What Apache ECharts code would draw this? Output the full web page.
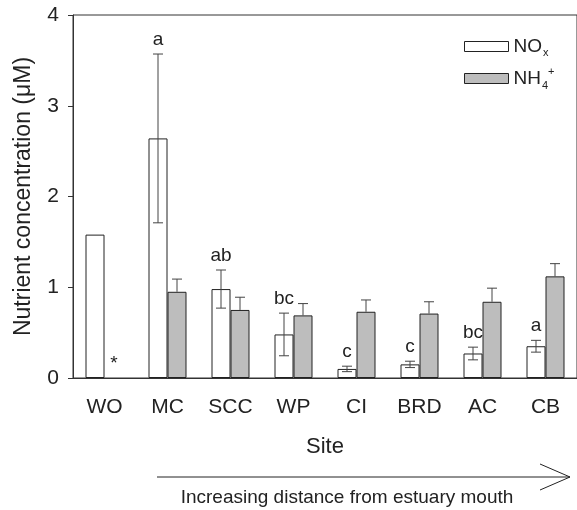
<!DOCTYPE html>
<html>
<head>
<meta charset="utf-8">
<script src="https://cdn.jsdelivr.net/npm/echarts@6/dist/echarts.min.js"></script>
<style>
  html, body { margin: 0; padding: 0; background: #fff; }
  #chart { width: 577px; height: 510px; }
</style>
</head>
<body>
<div id="chart"></div>
<script>
// sites along the estuary
const sites = ['WO', 'MC', 'SCC', 'WP', 'CI', 'BRD', 'AC', 'CB'];
// NOx mean and SE (uM)
const noxMean = [1.58, 2.64, 0.98, 0.48, 0.10, 0.15, 0.27, 0.35];
const noxErr = [0, 0.93, 0.21, 0.235, 0.03, 0.035, 0.07, 0.065];
// NH4+ mean and SE (uM)
const nh4Mean = [null, 0.95, 0.75, 0.69, 0.73, 0.71, 0.84, 1.12];
const nh4Err = [0, 0.14, 0.14, 0.13, 0.13, 0.13, 0.15, 0.14];
// significance letters (NOx) and notes (NH4)
const noxLetters = ['', 'a', 'ab', 'bc', 'c', 'c', 'bc', 'a'];
const nh4Notes = ['*', '', '', '', '', '', '', ''];
const yTicks = [0, 1, 2, 3, 4];

const FONT = '"Liberation Sans", Arial, sans-serif';
const INK = '#222';
const BAR_W = 19;

function errData(means, errs) {
  return means.map((m, i) => [i, m == null ? 0 : m, errs[i], i]);
}

// error bars + letters drawn from data through the axes
function errRenderer(offset, bothSides, labels) {
  return function (params, api) {
    const i = api.value(0), m = api.value(1), e = api.value(2);
    const base = api.coord([i, m]);
    const x = base[0] + offset;
    const top = api.coord([i, m + e]);
    const bot = api.coord([i, bothSides ? m - e : m]);
    const children = [];
    if (e > 0) {
      const st = { stroke: '#444', lineWidth: 1 };
      children.push({ type: 'line', shape: { x1: x, y1: top[1], x2: x, y2: bot[1] }, style: st });
      children.push({ type: 'line', shape: { x1: x - 5, y1: top[1], x2: x + 5, y2: top[1] }, style: st });
      if (bothSides) {
        children.push({ type: 'line', shape: { x1: x - 5, y1: bot[1], x2: x + 5, y2: bot[1] }, style: st });
      }
    }
    const lab = labels[i];
    if (lab) {
      children.push({
        type: 'text',
        x: x, y: top[1] - 5,
        style: { text: lab, fill: INK, font: '19px ' + FONT, align: 'center', verticalAlign: 'bottom' }
      });
    }
    return { type: 'group', children: children };
  };
}

const chart = echarts.init(document.getElementById('chart'));
chart.setOption({
  animation: false,
  textStyle: { fontFamily: FONT, color: INK },
  grid: { left: 73, right: -1, top: 15, bottom: 132, show: true, borderColor: '#333', borderWidth: 1 },
  legend: {
    orient: 'vertical',
    left: 459, top: 32,
    icon: 'rect',
    itemWidth: 44, itemHeight: 10, itemGap: 8,
    data: ['NOx', 'NH4'],
    itemStyle: { borderWidth: 1 },
    textStyle: {
      fontSize: 19, color: INK, fontFamily: FONT,
      rich: {
        n: { fontSize: 19, fontFamily: FONT, color: INK },
        sub: { fontSize: 11, fontFamily: FONT, color: INK, verticalAlign: 'bottom', padding: [12, 0, 0, 1] },
        sup: { fontSize: 11, fontFamily: FONT, color: INK, verticalAlign: 'top', padding: [0, 0, 14, 0] }
      }
    },
    formatter: function (name) {
      return name === 'NOx' ? '{n|NO}{sub|x}' : '{n|NH}{sub|4}{sup|+}';
    }
  },
  xAxis: {
    type: 'category',
    data: sites,
    name: 'Site',
    nameLocation: 'middle',
    nameGap: 58,
    nameTextStyle: { fontSize: 22, color: INK, fontFamily: FONT },
    axisLine: { lineStyle: { color: '#333' } },
    axisTick: { alignWithLabel: true, length: 5, inside: false, lineStyle: { color: '#333' } },
    axisLabel: { fontSize: 21, color: INK, margin: 19, fontFamily: FONT }
  },
  yAxis: {
    type: 'value',
    min: yTicks[0], max: yTicks[yTicks.length - 1], interval: 1,
    name: 'Nutrient concentration (\u03bcM)',
    nameLocation: 'middle',
    nameGap: 38,
    nameTextStyle: { fontSize: 23, color: INK, fontFamily: FONT },
    axisLine: { show: true, lineStyle: { color: '#333' } },
    axisTick: { show: true, length: 5, lineStyle: { color: '#333' } },
    axisLabel: { fontSize: 21, color: INK, margin: 14, fontFamily: FONT },
    splitLine: { show: false }
  },
  series: [
    {
      name: 'NOx', type: 'bar', data: noxMean, barWidth: BAR_W, barGap: '0%',
      itemStyle: { color: '#fff', borderColor: INK, borderWidth: 1 }
    },
    {
      name: 'NH4', type: 'bar', data: nh4Mean, barWidth: BAR_W, barGap: '0%',
      itemStyle: { color: '#bdbdbd', borderColor: INK, borderWidth: 1 }
    },
    {
      type: 'custom', data: errData(noxMean, noxErr),
      renderItem: errRenderer(-BAR_W / 2, true, noxLetters), z: 5
    },
    {
      type: 'custom', data: errData(nh4Mean, nh4Err),
      renderItem: errRenderer(BAR_W / 2, false, nh4Notes), z: 5
    }
  ],
  graphic: [
    { type: 'line', shape: { x1: 157, y1: 477, x2: 570, y2: 477 }, style: { stroke: INK, lineWidth: 1 } },
    { type: 'polyline', shape: { points: [[540, 464], [570, 477], [540, 490]] }, style: { stroke: INK, lineWidth: 1, fill: null } },
    {
      type: 'text', x: 347, y: 498,
      style: { text: 'Increasing distance from estuary mouth', fill: INK, font: '19px ' + FONT, align: 'center', verticalAlign: 'middle' }
    }
  ]
});
</script>
</body>
</html>
